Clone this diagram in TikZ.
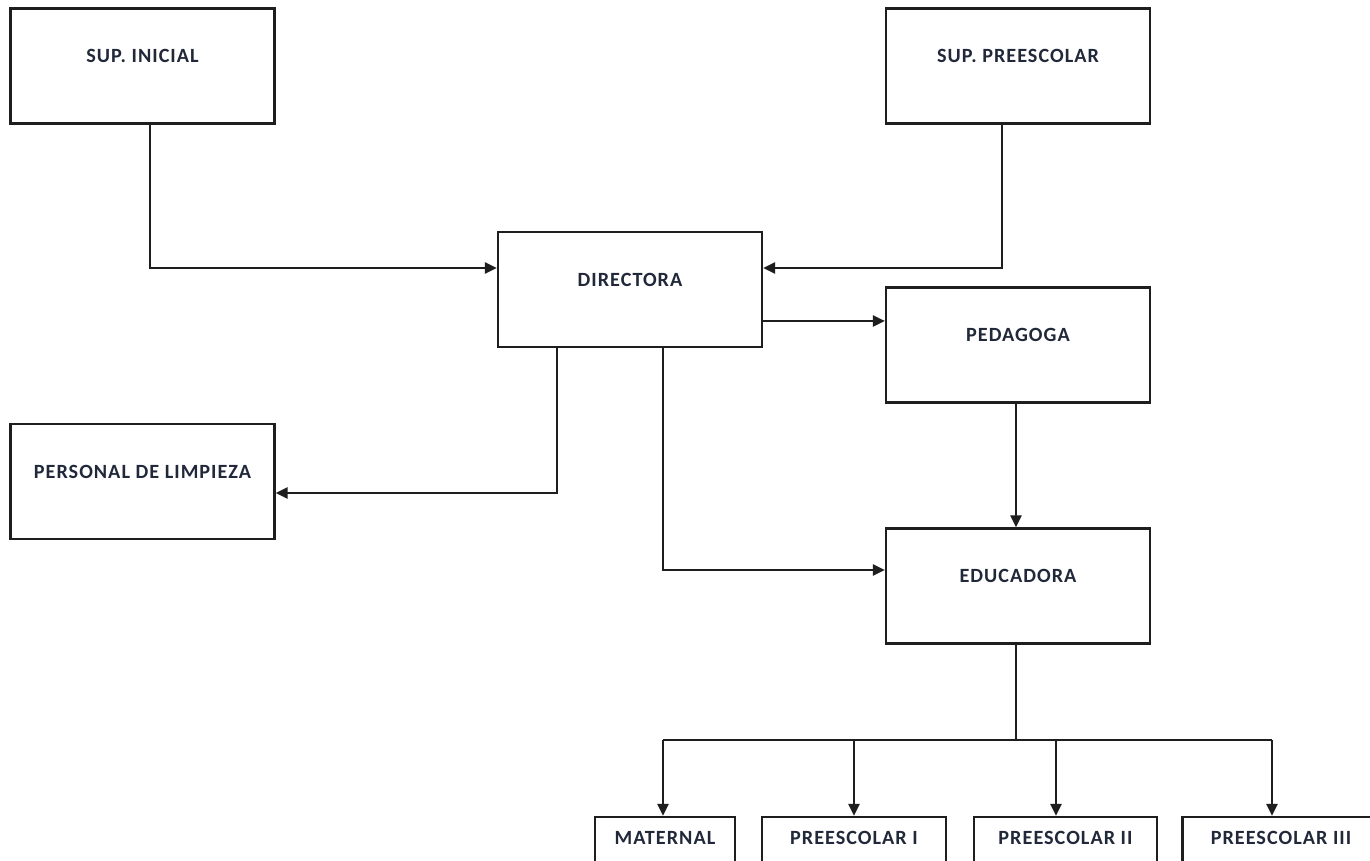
\documentclass[tikz,border=0pt]{standalone}
\usepackage{fontspec}
\setmainfont{Carlito}[LetterSpace=5]
\usepackage{tikz}
\usetikzlibrary{positioning}
\usetikzlibrary{calc}
\usetikzlibrary{arrows.meta}

\definecolor{labelink}{RGB}{32,40,58}
\definecolor{lineink}{RGB}{30,30,30}

\begin{document}
\begin{tikzpicture}[
	x=0.02cm, y=-0.02cm,
	box/.style={draw=lineink, line width=0.045cm, fill=white,
		minimum width=5.28cm, minimum height=2.3cm,
		text depth=0.4cm, font=\bfseries\fontsize{11.5}{13}\selectfont, text=labelink},
	leaf/.style={box, minimum height=1.2cm, text depth=0.35cm},
	arr/.style={draw=lineink, line width=0.045cm, -{Triangle[length=0.24cm,width=0.22cm]}},
	wire/.style={draw=lineink, line width=0.045cm}
]

\useasboundingbox (0,0) rectangle (1370,861);
\clip (0,0) rectangle (1370,861);
\fill[white] (0,0) rectangle (1370,861);

% upper level
\node[box] (inicial) at (142.5,66) {SUP. INICIAL};
\node[box] (preescolar) at (1018,66) {SUP. PREESCOLAR};

\node[box] (directora) at (630,289.5) {DIRECTORA};
\node[box] (pedagoga) at (1018,345) {PEDAGOGA};
\node[box] (limpieza) at (142.5,481.5) {PERSONAL DE LIMPIEZA};
\node[box] (educadora) at (1018,586) {EDUCADORA};

% groups
\node[leaf, minimum width=2.8cm] (maternal) at (665,847) {MATERNAL};
\node[leaf, minimum width=3.68cm] (pre1) at (854,847) {PREESCOLAR I};
\node[leaf, minimum width=3.66cm] (pre2) at (1065.5,847) {PREESCOLAR II};
\node[leaf, minimum width=3.94cm] (pre3) at (1281,847) {PREESCOLAR III};

\draw[arr] ([xshift=0.15cm]inicial.south) |- ([yshift=0.43cm]directora.west);
\draw[arr] ([xshift=-0.32cm]preescolar.south) |- ([yshift=0.43cm]directora.east);
\draw[arr] ([yshift=-0.63cm]directora.east) -- ([yshift=-0.63cm]directora.east -| pedagoga.west);
\draw[arr] ([xshift=-0.04cm]pedagoga.south) -- ([xshift=-0.04cm]educadora.north);
\draw[arr] ([xshift=-1.46cm]directora.south) |- ([yshift=-0.23cm]limpieza.east);
\draw[arr] ([xshift=0.66cm]directora.south) |- ([yshift=0.32cm]educadora.west);

% bus to the groups
\coordinate (busL) at (663,740);
\coordinate (busR) at (1272,740);
\draw[wire] ([xshift=-0.04cm]educadora.south) -- ([xshift=-0.04cm]educadora.south |- busL);
\draw[wire] (busL) -- (busR);
\draw[arr] (busL) -- (busL |- maternal.north);
\draw[arr] (pre1.north |- busL) -- (pre1.north);
\draw[arr] ([xshift=-0.19cm]pre2.north |- busL) -- ([xshift=-0.19cm]pre2.north);
\draw[arr] (busR) -- (busR |- pre3.north);

\end{tikzpicture}
\end{document}
